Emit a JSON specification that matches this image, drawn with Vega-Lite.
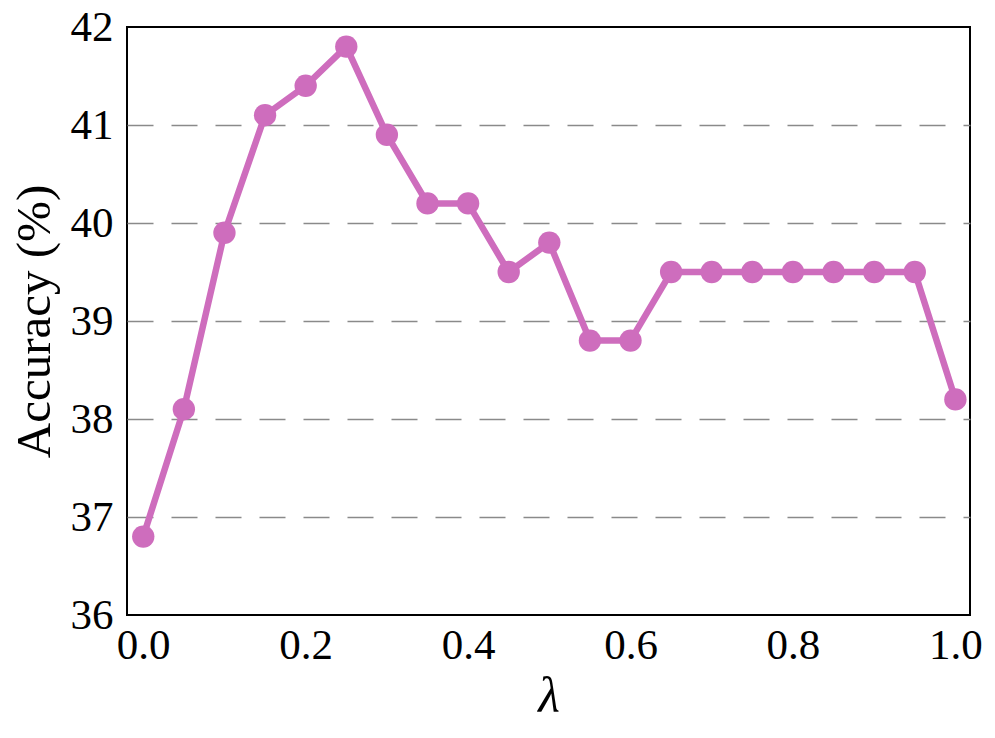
{
  "$schema": "https://vega.github.io/schema/vega-lite/v6.json",
  "autosize": {"type": "none"},
  "width": 843,
  "height": 588,
  "padding": {"left": 127, "top": 27, "right": 25, "bottom": 123},
  "background": "white",
  "config": {
    "view": {"stroke": "black", "strokeWidth": 2},
    "font": "Liberation Serif"
  },
  "data": {
    "values": [
      {"lambda": 0.0, "acc": 36.8},
      {"lambda": 0.05, "acc": 38.1},
      {"lambda": 0.1, "acc": 39.9},
      {"lambda": 0.15, "acc": 41.1},
      {"lambda": 0.2, "acc": 41.4},
      {"lambda": 0.25, "acc": 41.8},
      {"lambda": 0.3, "acc": 40.9},
      {"lambda": 0.35, "acc": 40.2},
      {"lambda": 0.4, "acc": 40.2},
      {"lambda": 0.45, "acc": 39.5},
      {"lambda": 0.5, "acc": 39.8},
      {"lambda": 0.55, "acc": 38.8},
      {"lambda": 0.6, "acc": 38.8},
      {"lambda": 0.65, "acc": 39.5},
      {"lambda": 0.7, "acc": 39.5},
      {"lambda": 0.75, "acc": 39.5},
      {"lambda": 0.8, "acc": 39.5},
      {"lambda": 0.85, "acc": 39.5},
      {"lambda": 0.9, "acc": 39.5},
      {"lambda": 0.95, "acc": 39.5},
      {"lambda": 1.0, "acc": 38.2}
    ]
  },
  "encoding": {
    "x": {
      "field": "lambda",
      "type": "quantitative",
      "scale": {"domain": [-0.02, 1.018], "nice": false, "zero": false},
      "axis": {
        "title": "λ",
        "titleFont": "Liberation Serif",
        "titleFontStyle": "italic",
        "titleFontWeight": "normal",
        "titleFontSize": 50,
        "titleColor": "black",
        "titlePadding": 4,
        "values": [0, 0.2, 0.4, 0.6, 0.8, 1.0],
        "format": ".1f",
        "labelFont": "Liberation Serif",
        "labelFontSize": 43,
        "labelColor": "black",
        "labelPadding": 9,
        "labelFlush": false,
        "ticks": false,
        "domain": false,
        "grid": false
      }
    },
    "y": {
      "field": "acc",
      "type": "quantitative",
      "scale": {"domain": [36, 42], "nice": false, "zero": false},
      "axis": {
        "title": "Accuracy (%)",
        "titleFont": "Liberation Serif",
        "titleFontWeight": "normal",
        "titleFontSize": 49,
        "titleColor": "black",
        "titlePadding": 11,
        "values": [36, 37, 38, 39, 40, 41, 42],
        "format": "d",
        "labelFont": "Liberation Serif",
        "labelFontSize": 43,
        "labelColor": "black",
        "labelPadding": 14,
        "labelFlush": false,
        "ticks": false,
        "domain": false,
        "grid": true,
        "gridColor": "#8a8a8a",
        "gridWidth": 1.6,
        "gridDash": [26, 18],
        "gridOpacity": {"condition": {"test": "datum.value == 36 || datum.value == 42", "value": 0}, "value": 1}
      }
    }
  },
  "layer": [
    {"mark": {"type": "line", "color": "#CE6DBD", "strokeWidth": 6.5}},
    {"mark": {"type": "point", "filled": true, "color": "#CE6DBD", "size": 500, "opacity": 1}}
  ]
}
